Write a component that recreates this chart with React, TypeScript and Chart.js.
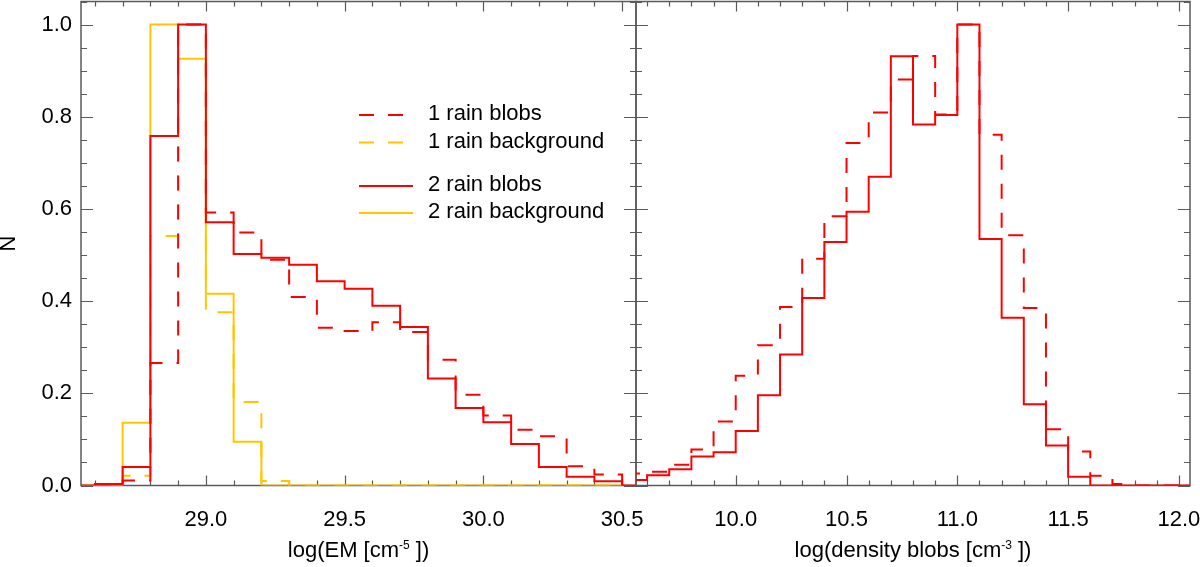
import React, { useEffect, useRef } from "react";
import { Chart, registerables } from "chart.js";

Chart.register(...registerables);

// ---------- data ----------
const BIN_WIDTH = 0.1;

// left panel: log(EM) bins (bin start values)
const emBinStarts = [28.5, 28.6, 28.7, 28.8, 28.9, 29.0, 29.1, 29.2, 29.3, 29.4, 29.5, 29.6, 29.7, 29.8, 29.9, 30.0, 30.1, 30.2, 30.3, 30.4, 30.5];
const emRain1Blobs = [0, 0, 0.011, 0.266, 1.0, 0.592, 0.549, 0.49, 0.409, 0.342, 0.335, 0.354, 0.333, 0.273, 0.197, 0.152, 0.121, 0.107, 0.042, 0.024, 0];
const emRain1Background = [0, 0, 0.021, 0.541, 1.0, 0.376, 0.181, 0.01, 0, 0, 0, 0, 0, 0, 0, 0, 0, 0, 0, 0];
const emRain2Blobs = [0, 0.003, 0.04, 0.758, 1.0, 0.571, 0.502, 0.494, 0.479, 0.443, 0.427, 0.39, 0.344, 0.232, 0.168, 0.137, 0.09, 0.04, 0.019, 0.009, 0];
const emRain2Background = [0, 0, 0.136, 1.0, 0.926, 0.416, 0.095, 0, 0, 0, 0, 0, 0, 0, 0, 0, 0, 0, 0, 0];

// right panel: log(density) bins (bin start values)
const denBinStarts = [9.5, 9.6, 9.7, 9.8, 9.9, 10.0, 10.1, 10.2, 10.3, 10.4, 10.5, 10.6, 10.7, 10.8, 10.9, 11.0, 11.1, 11.2, 11.3, 11.4, 11.5, 11.6, 11.7, 11.8, 11.9, 12.0];
const denRain1Blobs = [0.026, 0.03, 0.045, 0.078, 0.139, 0.238, 0.304, 0.387, 0.492, 0.584, 0.743, 0.809, 0.881, 0.932, 0.805, 1.0, 0.761, 0.543, 0.385, 0.122, 0.074, 0.021, 0.003, 0, 0, 0];
const denRain2Blobs = [0.012, 0.022, 0.035, 0.063, 0.072, 0.118, 0.196, 0.284, 0.407, 0.528, 0.594, 0.67, 0.931, 0.783, 0.804, 1.0, 0.535, 0.364, 0.176, 0.087, 0.019, 0, 0, 0, 0, 0];

// ticks
const yMajorTicks = [0, 0.2, 0.4, 0.6, 0.8, 1.0];
const emMajorTicks = [29.0, 29.5, 30.0, 30.5];
const denMajorTicks = [10.0, 10.5, 11.0, 11.5, 12.0];

const legendLabels = ["1 rain blobs", "1 rain background", "2 rain blobs", "2 rain background"];

// ---------- styles ----------
const RED = "rgb(255,0,0)";
const YELLOW = "rgb(255,198,0)";
const DASH = [15, 14];
const FONT_FAMILY = '"Liberation Sans", Arial, Helvetica, sans-serif';
const AXIS_COLOR = "#5a5a5a";

function steps(starts: number[], values: number[]) {
  const pts = values.map((v, i) => ({ x: starts[i], y: v }));
  const n = values.length;
  pts.push({ x: starts[n - 1] + BIN_WIDTH, y: values[n - 1] });
  return pts;
}

function ds(label: string, data: any[], color: string, dashed: boolean) {
  return {
    label,
    data,
    borderColor: color,
    backgroundColor: color,
    borderWidth: 2,
    borderDash: dashed ? DASH : [],
    stepped: true,
    pointRadius: 0,
    fill: false,
    tension: 0,
  };
}

function framePlugin(isRightPanel: boolean) {
  return {
    id: "frame",
    beforeDatasetsDraw(chart: any) {
      const { ctx, chartArea: a, scales } = chart;
      const xs = scales.x;
      const ys = scales.y;
      ctx.save();
      ctx.strokeStyle = AXIS_COLOR;
      ctx.lineWidth = 1.5;
      ctx.strokeRect(a.left, a.top, a.right - a.left, a.bottom - a.top);
      ctx.lineWidth = 1.2;
      ctx.beginPath();
      // x ticks: minor every 0.1, major every 0.5
      const xmin = xs.min, xmax = xs.max;
      for (let k = Math.ceil(xmin * 10 - 1e-6); k <= Math.floor(xmax * 10 + 1e-6); k++) {
        const v = k / 10;
        const major = Math.abs(v * 2 - Math.round(v * 2)) < 1e-6;
        const len = major ? 10 : 5;
        const px = Math.round(xs.getPixelForValue(v)) + 0.5;
        ctx.moveTo(px, a.bottom);
        ctx.lineTo(px, a.bottom - len);
        ctx.moveTo(px, a.top);
        ctx.lineTo(px, a.top + len);
      }
      // y ticks: minor every 0.05, major every 0.2
      for (let k = 0; k <= Math.floor(ys.max * 20 + 1e-6); k++) {
        const v = k / 20;
        const major = k % 4 === 0;
        const len = major ? 12 : 6;
        const py = Math.round(ys.getPixelForValue(v)) + 0.5;
        ctx.moveTo(a.left, py);
        ctx.lineTo(a.left + len, py);
        ctx.moveTo(a.right, py);
        ctx.lineTo(a.right - len, py);
        if (isRightPanel) {
          ctx.moveTo(a.left, py);
          ctx.lineTo(a.left - len, py);
        }
      }
      ctx.stroke();
      ctx.restore();
    },
  };
}

function titlePlugin(main: string, sup: string, tail: string, withN: boolean, withLegend: boolean) {
  return {
    id: "titles",
    afterDraw(chart: any) {
      const { ctx, chartArea: a } = chart;
      ctx.save();
      ctx.fillStyle = "#000";
      ctx.textAlign = "left";
      ctx.textBaseline = "alphabetic";
      const big = `22px ${FONT_FAMILY}`;
      const small = `12px ${FONT_FAMILY}`;
      ctx.font = big;
      const w1 = ctx.measureText(main).width;
      const w3 = ctx.measureText(tail).width;
      ctx.font = small;
      const w2 = ctx.measureText(sup).width;
      const cx = (a.left + a.right) / 2;
      let x = cx - (w1 + w2 + w3) / 2;
      const base = 557;
      ctx.font = big;
      ctx.fillText(main, x, base);
      x += w1;
      ctx.font = small;
      ctx.fillText(sup, x, base - 8);
      x += w2;
      ctx.font = big;
      ctx.fillText(tail, x, base);

      if (withN) {
        ctx.save();
        ctx.translate(9, (a.top + a.bottom) / 2);
        ctx.rotate(-Math.PI / 2);
        ctx.textAlign = "center";
        ctx.textBaseline = "middle";
        ctx.font = big;
        ctx.fillText("N", 0, 0);
        ctx.restore();
      }

      if (withLegend) {
        const rows = [
          { lineY: 115, textY: 120, color: RED, dashed: true },
          { lineY: 142.5, textY: 147.5, color: YELLOW, dashed: true },
          { lineY: 186, textY: 191, color: RED, dashed: false },
          { lineY: 213, textY: 218, color: YELLOW, dashed: false },
        ];
        rows.forEach((r, i) => {
          ctx.beginPath();
          ctx.strokeStyle = r.color;
          ctx.lineWidth = 2;
          ctx.setLineDash(r.dashed ? DASH : []);
          ctx.moveTo(359, r.lineY);
          ctx.lineTo(413, r.lineY);
          ctx.stroke();
          ctx.setLineDash([]);
          ctx.font = big;
          ctx.fillStyle = "#000";
          ctx.fillText(legendLabels[i], 428, r.textY);
        });
      }
      ctx.restore();
    },
  };
}

function zeroPadding(s: any) {
  s.paddingLeft = 0;
  s.paddingRight = 0;
  s.paddingTop = 0;
  s.paddingBottom = 0;
}

function makeConfig(opts: {
  datasets: any[];
  xMin: number;
  xMax: number;
  xTicks: number[];
  showY: boolean;
  padding: any;
  plugins: any[];
}): any {
  return {
    type: "line",
    data: { datasets: opts.datasets },
    plugins: opts.plugins,
    options: {
      responsive: false,
      animation: false,
      devicePixelRatio: 1,
      layout: { padding: opts.padding },
      plugins: { legend: { display: false }, tooltip: { enabled: false }, title: { display: false } },
      scales: {
        x: {
          type: "linear",
          min: opts.xMin,
          max: opts.xMax,
          grid: { display: false, drawTicks: false },
          border: { display: false },
          afterBuildTicks: (s: any) => {
            s.ticks = opts.xTicks.map((v) => ({ value: v }));
          },
          afterFit: (s: any) => {
            s.height = 81.5;
            zeroPadding(s);
          },
          ticks: {
            autoSkip: false,
            maxRotation: 0,
            padding: 21,
            color: "#000",
            font: { family: FONT_FAMILY, size: 22 },
            callback: (v: number) => Number(v).toFixed(1),
          },
        },
        y: {
          type: "linear",
          display: opts.showY,
          min: 0,
          max: 1.05,
          grid: { display: false, drawTicks: false },
          border: { display: false },
          afterBuildTicks: (s: any) => {
            s.ticks = yMajorTicks.map((v) => ({ value: v }));
          },
          afterFit: (s: any) => {
            if (opts.showY) s.width = 81;
            zeroPadding(s);
          },
          ticks: {
            padding: 9,
            color: "#000",
            font: { family: FONT_FAMILY, size: 22 },
            callback: (v: number) => Number(v).toFixed(1),
          },
        },
      },
    },
  };
}

export default function App() {
  const leftRef = useRef<HTMLCanvasElement>(null);
  const rightRef = useRef<HTMLCanvasElement>(null);

  useEffect(() => {
    const left = new Chart(
      leftRef.current as HTMLCanvasElement,
      makeConfig({
        datasets: [
          ds("2 rain blobs", steps(emBinStarts, emRain2Blobs), RED, false),
          ds("1 rain blobs", steps(emBinStarts, emRain1Blobs), RED, true),
          ds("2 rain background", steps(emBinStarts, emRain2Background), YELLOW, false),
          ds("1 rain background", steps(emBinStarts, emRain1Background), YELLOW, true),
        ],
        xMin: 28.55,
        xMax: 30.55,
        xTicks: emMajorTicks,
        showY: true,
        padding: { top: 1.5, right: 24, left: 0, bottom: 0 },
        plugins: [framePlugin(false), titlePlugin("log(EM [cm", "-5", " ])", true, true)],
      })
    );
    const right = new Chart(
      rightRef.current as HTMLCanvasElement,
      makeConfig({
        datasets: [
          ds("2 rain blobs", steps(denBinStarts, denRain2Blobs), RED, false),
          ds("1 rain blobs", steps(denBinStarts, denRain1Blobs), RED, true),
        ],
        xMin: 9.55,
        xMax: 12.05,
        xTicks: denMajorTicks,
        showY: false,
        padding: { top: 1.5, right: 10, left: 4, bottom: 0 },
        plugins: [framePlugin(true), titlePlugin("log(density blobs [cm", "-3", " ])", false, false)],
      })
    );
    return () => {
      left.destroy();
      right.destroy();
    };
  }, []);

  return (
    <div style={{ position: "absolute", left: 0, top: 0, width: 1200, height: 567, background: "#fff", overflow: "hidden" }}>
      <canvas ref={leftRef} width={660} height={567} style={{ position: "absolute", left: 0, top: 0, width: 660, height: 567 }} />
      <canvas ref={rightRef} width={568} height={567} style={{ position: "absolute", left: 632, top: 0, width: 568, height: 567 }} />
    </div>
  );
}
